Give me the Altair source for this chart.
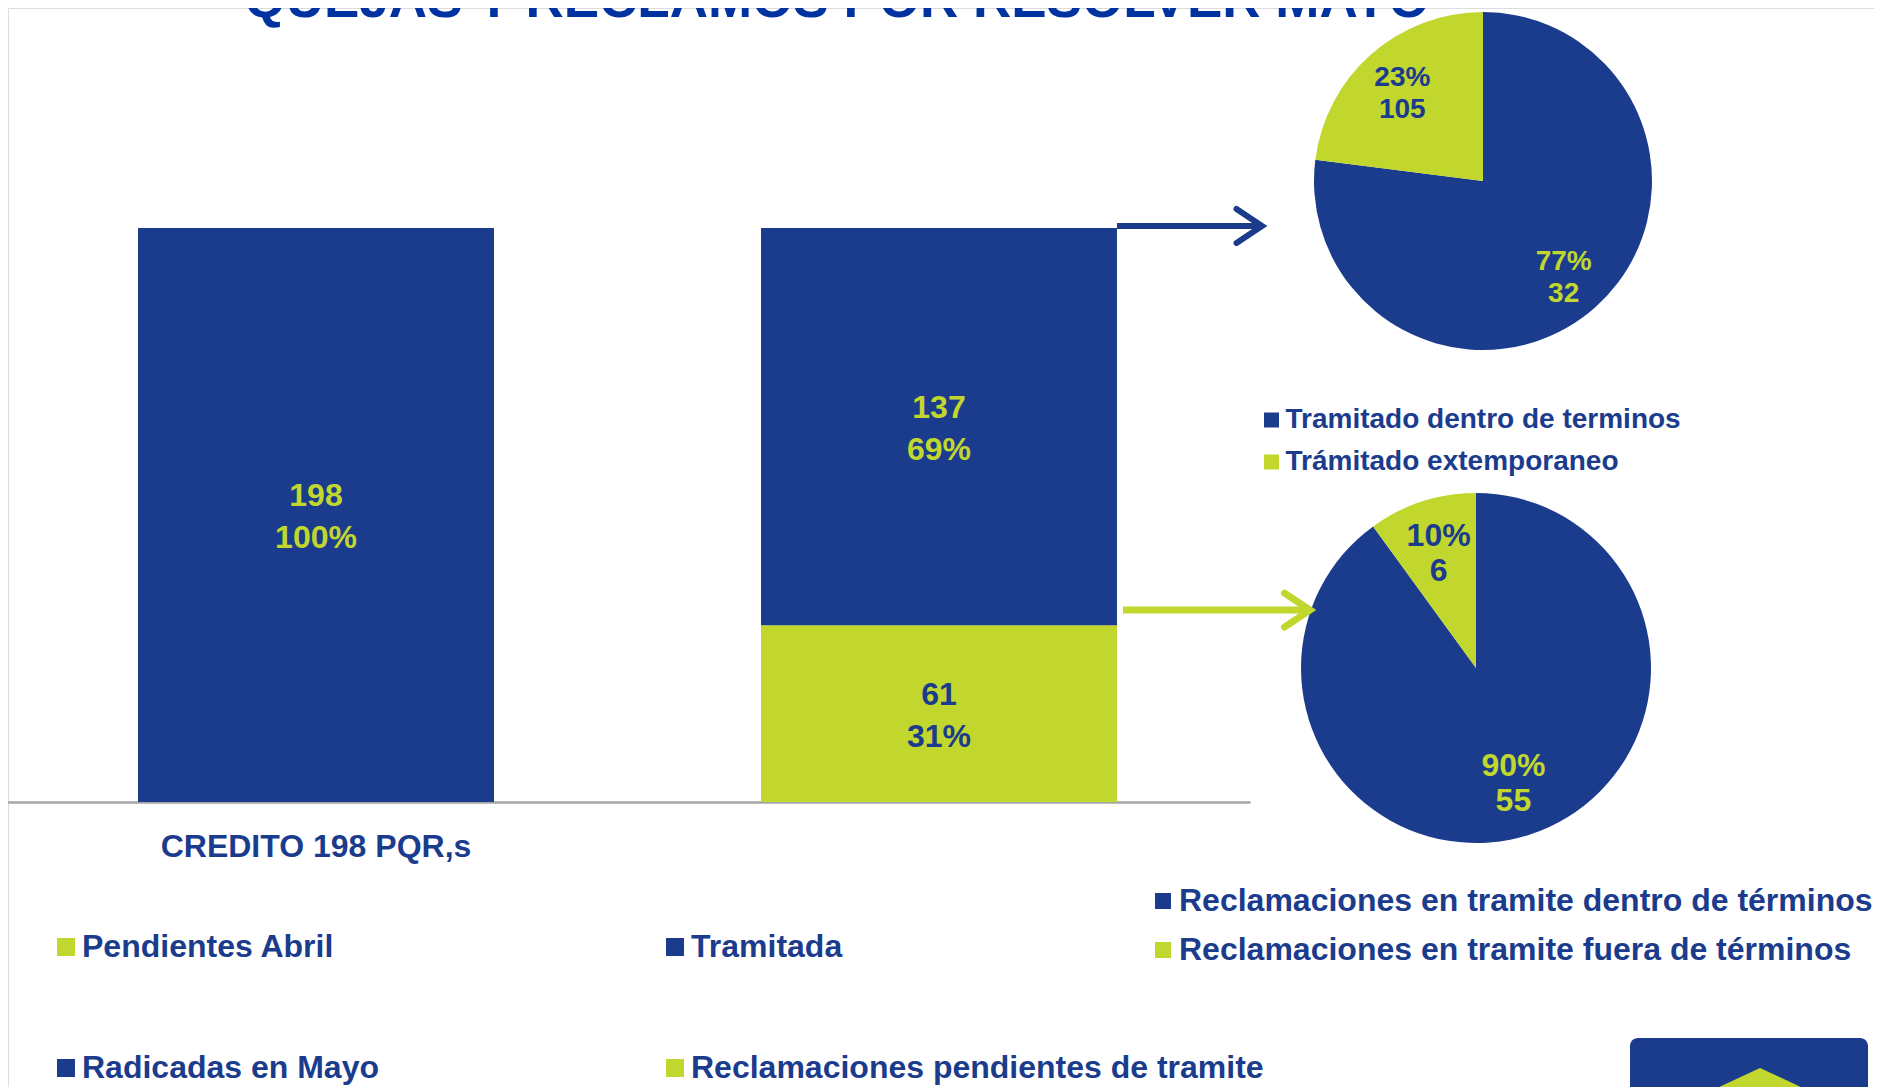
import altair as alt
import pandas as pd

# ---------------- colours / fonts ----------------
BLUE = "#1B3C8C"
GREEN = "#C1D72E"
TITLE_BLUE = "#0033A0"
AXIS_GREY = "#A6A6A6"
SANS = "Liberation Sans"

W, H = 1866, 1079

# ---------------- data ----------------
title_text = "QUEJAS Y RECLAMOS POR RESOLVER MAYO"

bar_groups = ["CREDITO 198 PQR,s", "Estado Mayo", "Estado Mayo"]
bar_series = ["Radicadas en Mayo", "Reclamaciones pendientes de tramite", "Tramitada"]
bar_values = [198, 61, 137]
bar_shares = ["100%", "31%", "69%"]

# legend entries, listed column by column (2 columns)
bar_legend_items = ["Pendientes Abril", "Radicadas en Mayo", "Tramitada",
                    "Reclamaciones pendientes de tramite"]

pie1_names = ["Tramitado dentro de terminos", "Trámitado extemporaneo"]
pie1_shares = [77, 23]
pie1_counts = [32, 105]

pie2_names = ["Reclamaciones en tramite dentro de términos",
              "Reclamaciones en tramite fuera de términos"]
pie2_shares = [90, 10]
pie2_counts = [55, 6]

# ---------------- tables ----------------
bars_df = pd.DataFrame({"group": bar_groups, "series": bar_series,
                        "value": bar_values, "share": bar_shares,
                        "pos": list(range(len(bar_values)))})
bars_df["label"] = bars_df["value"].astype(str) + "\n" + bars_df["share"]

pie1_df = pd.DataFrame({"name": pie1_names, "share": pie1_shares,
                        "count": pie1_counts, "pos": [0, 1]})
pie1_df["label"] = pie1_df["share"].astype(str) + "%\n" + pie1_df["count"].astype(str)

pie2_df = pd.DataFrame({"name": pie2_names, "share": pie2_shares,
                        "count": pie2_counts, "pos": [0, 1]})
pie2_df["label"] = pie2_df["share"].astype(str) + "%\n" + pie2_df["count"].astype(str)

one_row = pd.DataFrame({"k": [0]})

# ---------------- scales ----------------
group_domain = list(dict.fromkeys(bar_groups))
x_scale = alt.Scale(domain=group_domain, range=[-3, 1242],
                    paddingInner=0.4286, paddingOuter=0.2135)
y_scale = alt.Scale(domain=[0, 198], range=[794, 220], nice=False, zero=True)

bar_color = alt.Scale(domain=bar_legend_items, range=[GREEN, BLUE, BLUE, GREEN])

x_axis = alt.Axis(title=None, orient="bottom", offset=794 - H,
                  domainColor=AXIS_GREY, domainWidth=2.5,
                  ticks=False, tickSize=0, grid=False, labelAngle=0,
                  labelFont=SANS, labelFontWeight="bold", labelLimit=2000,
                  labelFontSize=32, labelColor=BLUE, labelPadding=29,
                  labelExpr="datum.value == 'Estado Mayo' ? '' : datum.label")

# ---------------- bar chart ----------------
bars = alt.Chart(bars_df).mark_bar().encode(
    x=alt.X("group:N", scale=x_scale, sort=group_domain, axis=x_axis),
    y=alt.Y("value:Q", stack="zero", scale=y_scale, axis=None),
    color=alt.Color("series:N", scale=bar_color,
                    legend=alt.Legend(orient="none", legendX=42, legendY=923,
                                      columns=2, columnPadding=280, rowPadding=89,
                                      title=None, padding=0,
                                      symbolType="square", symbolSize=324,
                                      symbolStrokeWidth=0, symbolOpacity=1,
                                      labelFont=SANS, labelFontWeight="bold",
                                      labelFontSize=32, labelColor=BLUE,
                                      labelOffset=0, labelLimit=2000)),
    order=alt.Order("pos:Q"),
)

bar_text = alt.Chart(bars_df).transform_window(
    cum="sum(value)", groupby=["group"], sort=[alt.SortField("pos")], frame=[None, 0]
).transform_calculate(
    mid="datum.cum - datum.value / 2"
).mark_text(font=SANS, fontWeight="bold", fontSize=32, lineBreak="\n",
            lineHeight=42, baseline="middle", align="center", dy=-19).encode(
    x=alt.X("group:N", scale=x_scale, sort=group_domain, axis=x_axis),
    y=alt.Y("mid:Q", scale=y_scale, axis=None),
    text="label:N",
    color=alt.condition(alt.datum.series == "Reclamaciones pendientes de tramite",
                        alt.value(BLUE), alt.value(GREEN)),
)

bar_layer = alt.layer(bars, bar_text)

# ---------------- pie 1 ----------------
P1X, P1Y = 1475, 173
pie1_base = alt.Chart(pie1_df).encode(
    theta=alt.Theta("share:Q", stack=True),
    order=alt.Order("pos:Q"),
)
pie1_arc = pie1_base.mark_arc(radius=169, x=P1X, y=P1Y).encode(
    color=alt.Color("name:N", scale=alt.Scale(domain=pie1_names, range=[BLUE, GREEN]),
                    legend=alt.Legend(orient="none", legendX=1249.5, legendY=398,
                                      direction="vertical", title=None, padding=0,
                                      rowPadding=14, symbolType="square",
                                      symbolSize=225, symbolStrokeWidth=0,
                                      symbolOpacity=1, labelFont=SANS,
                                      labelFontWeight="bold", labelFontSize=28,
                                      labelColor=BLUE, labelOffset=0,
                                      labelLimit=2000)),
)
pie1_text = pie1_base.mark_text(radius=122, x=P1X, y=P1Y, font=SANS, fontWeight="bold",
                                fontSize=28, lineBreak="\n", lineHeight=32, dy=-11,
                                baseline="middle", align="center").encode(
    text="label:N",
    color=alt.condition(alt.datum.pos == 0, alt.value(GREEN), alt.value(BLUE)),
)
pie1_layer = alt.layer(pie1_arc, pie1_text)

# ---------------- pie 2 ----------------
P2X, P2Y = 1468, 660
pie2_base = alt.Chart(pie2_df).encode(
    theta=alt.Theta("share:Q", stack=True),
    order=alt.Order("pos:Q"),
)
pie2_arc = pie2_base.mark_arc(radius=175, x=P2X, y=P2Y).encode(
    color=alt.Color("name:N", scale=alt.Scale(domain=pie2_names, range=[BLUE, GREEN]),
                    legend=alt.Legend(orient="none", legendX=1139, legendY=877,
                                      direction="vertical", title=None, padding=0,
                                      rowPadding=17, symbolType="square",
                                      symbolSize=256, symbolStrokeWidth=0,
                                      symbolOpacity=1, labelFont=SANS,
                                      labelFontWeight="bold", labelFontSize=32,
                                      labelColor=BLUE, labelOffset=0,
                                      labelLimit=2000)),
)
pie2_text = pie2_base.mark_text(radius=121, x=P2X, y=P2Y, font=SANS, fontWeight="bold",
                                fontSize=32, lineBreak="\n", lineHeight=35, dy=-17,
                                baseline="middle", align="center").encode(
    text="label:N",
    color=alt.condition(alt.datum.pos == 0, alt.value(GREEN), alt.value(BLUE)),
)
pie2_layer = alt.layer(pie2_arc, pie2_text)

# ---------------- title ----------------
title_mark = alt.Chart(one_row).mark_text(
    font=SANS, fontWeight="bold", fontSize=53, color=TITLE_BLUE,
    align="center", baseline="alphabetic").encode(
    x=alt.value(829), y=alt.value(9), text=alt.value(title_text))

# ---------------- arrows (annotations) ----------------
chevron = "M-1.5,-1L0,0L-1.5,1"
arrow_blue_line = alt.Chart(one_row).mark_rule(color=BLUE, strokeWidth=6).encode(
    x=alt.value(1109), x2=alt.value(1250), y=alt.datum(198.7))
arrow_blue_head = alt.Chart(one_row).mark_point(
    shape=chevron, filled=False, color=BLUE, strokeWidth=6, size=1156, opacity=1,
    strokeCap="round").encode(x=alt.value(1254), y=alt.datum(198.7))
arrow_green_line = alt.Chart(one_row).mark_rule(color=GREEN, strokeWidth=7).encode(
    x=alt.value(1115), x2=alt.value(1298), y=alt.datum(66.2))
arrow_green_head = alt.Chart(one_row).mark_point(
    shape=chevron, filled=False, color=GREEN, strokeWidth=7, size=1156, opacity=1,
    strokeCap="round").encode(x=alt.value(1302), y=alt.datum(66.2))

# ---------------- logo corner (decoration) ----------------
logo_box = alt.Chart(one_row).mark_rect(color=BLUE, cornerRadius=8).encode(
    x=alt.value(1622), x2=alt.value(1860), y=alt.value(1030), y2=alt.value(1095))
logo_roof = alt.Chart(one_row).mark_point(
    shape="M0,-1L4.3,1L-4.3,1Z", filled=True, color=GREEN, size=400, opacity=1,
    strokeWidth=0).encode(x=alt.value(1752), y=alt.value(1070))

chart = alt.layer(
    bar_layer, pie1_layer, pie2_layer,
    arrow_blue_line, arrow_blue_head, arrow_green_line, arrow_green_head,
    logo_box, logo_roof, title_mark,
).resolve_scale(
    color="independent", theta="independent"
).properties(
    width=W, height=H, padding=0,
    autosize=alt.AutoSizeParams(type="none"),
).configure_view(stroke=None).configure(background="white")

chart.save("out.html", embed_options={"renderer": "svg", "actions": False})
